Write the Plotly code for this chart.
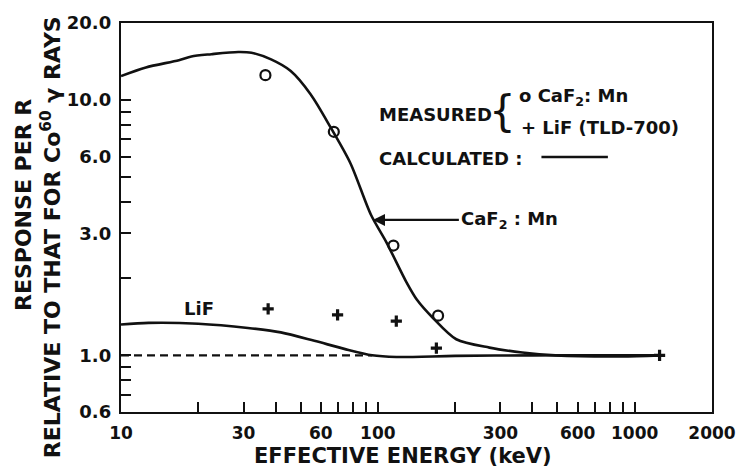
import plotly.graph_objects as go

# ---------------- data ----------------
caf2_calc_x = [10, 12.5, 16.8, 18.8, 22.5, 28.6, 32.2, 38.4, 45.8, 54.8, 65.5, 78.2, 94, 108, 129, 142, 164, 202, 272, 365, 491, 889, 1250]
caf2_calc_y = [12.4, 13.4, 14.3, 14.8, 15.1, 15.4, 15.3, 14.4, 12.97, 10.5, 7.8, 5.65, 3.55, 2.77, 1.94, 1.65, 1.40, 1.156, 1.072, 1.026, 1.0, 0.99, 1.0]

lif_calc_x = [10, 12.8, 20, 31.2, 41.9, 56.6, 74, 95, 118, 200, 400, 800, 1250]
lif_calc_y = [1.32, 1.34, 1.33, 1.28, 1.23, 1.14, 1.06, 1.0, 0.985, 0.995, 1.0, 1.0, 1.0]

caf2_meas_x = [36.5, 67.4, 115, 171.6]
caf2_meas_y = [12.5, 7.5, 2.69, 1.43]

lif_meas_x = [37.4, 69.7, 118, 169, 1250]
lif_meas_y = [1.52, 1.44, 1.36, 1.067, 1.0]

ref_x = [10, 95]
ref_y = [1.0, 1.0]

x_tickvals = [10, 30, 60, 100, 300, 600, 1000, 2000]
x_ticktext = ["10", "30", "60", "100", "300", "600", "1000", "2000"]
x_minorvals = [20, 40, 50, 70, 80, 90, 200, 400, 500, 700, 800, 900]
y_tickvals = [0.6, 1, 3, 6, 10, 20]
y_ticktext = ["0.6", "1.0", "3.0", "6.0", "10.0", "20.0"]
y_minorvals = [0.7, 0.8, 0.9, 2, 4, 5, 7, 8, 9]

# ---------------- layout geometry ----------------
W, H = 748, 470
L, R, T, B = 121, 717, 17, 412
PW, PH = R - L, B - T


def px(x):
    return (x - L) / PW


def py(y):
    return (B - y) / PH


FONT = "DejaVu Sans"
BLACK = "#111111"

fig = go.Figure()

fig.add_trace(go.Scatter(x=caf2_calc_x, y=caf2_calc_y, mode="lines",
                         line=dict(color=BLACK, width=2.6, shape="spline", smoothing=0.8),
                         showlegend=False, hoverinfo="skip"))
fig.add_trace(go.Scatter(x=lif_calc_x, y=lif_calc_y, mode="lines",
                         line=dict(color=BLACK, width=2.6, shape="spline", smoothing=0.8),
                         showlegend=False, hoverinfo="skip"))
fig.add_trace(go.Scatter(x=ref_x, y=ref_y, mode="lines",
                         line=dict(color=BLACK, width=2.4, dash="8px,5px"),
                         showlegend=False, hoverinfo="skip"))
fig.add_trace(go.Scatter(x=caf2_meas_x, y=caf2_meas_y, mode="markers",
                         marker=dict(symbol="circle-open", size=10, color=BLACK, line=dict(width=2.2)),
                         showlegend=False))
fig.add_trace(go.Scatter(x=lif_meas_x, y=lif_meas_y, mode="markers",
                         marker=dict(symbol="cross-thin-open", size=8, color=BLACK, line=dict(width=3.2, color=BLACK)),
                         showlegend=False))

axis_common = dict(type="log", showgrid=False, zeroline=False, showline=True, linewidth=2.4,
                   linecolor=BLACK, mirror=True, ticks="inside", ticklen=10, tickwidth=1.8,
                   tickcolor=BLACK, tickmode="array")

fig.update_xaxes(**axis_common, range=[1, 3.30103], tickvals=x_tickvals, ticktext=x_ticktext,
                 minor=dict(tickmode="array", tickvals=x_minorvals, ticks="inside", ticklen=10,
                            tickwidth=1.8, tickcolor=BLACK, showgrid=False),
                 tickfont=dict(family=FONT, size=17, color=BLACK, weight="bold"), ticklabelstandoff=4)
fig.update_yaxes(**axis_common, range=[-0.22185, 1.30103], tickvals=y_tickvals, ticktext=y_ticktext,
                 minor=dict(tickmode="array", tickvals=y_minorvals, ticks="inside", ticklen=10,
                            tickwidth=1.8, tickcolor=BLACK, showgrid=False),
                 tickfont=dict(family=FONT, size=18, color=BLACK, weight="bold"), ticklabelstandoff=4)

ann = []


def txt(text, x, y, size, xanchor="left", yanchor="middle", angle=0, weight="bold"):
    ann.append(dict(text=text, x=px(x), y=py(y), xref="paper", yref="paper", showarrow=False,
                    xanchor=xanchor, yanchor=yanchor, textangle=angle,
                    font=dict(family=FONT, size=size, color=BLACK, weight=weight)))


# axis titles
txt("EFFECTIVE ENERGY (keV)", 405, 457, 21, xanchor="center")
txt("RESPONSE PER R", 22, 202, 22, xanchor="center", angle=-90)
txt("RELATIVE TO THAT FOR Co<sup>60</sup> γ RAYS", 50, 235, 22, xanchor="center", angle=-90)

# key
txt("MEASURED", 379, 110, 18)
txt("{", 506, 107, 42, xanchor="center", weight="normal")
txt("o CaF<sub>2</sub>: Mn", 520, 92, 18)
txt("+ LiF (TLD-700)", 522, 123, 18)
txt("CALCULATED :", 379, 155, 18)

# curve labels
txt("LiF", 200, 307, 18, xanchor="center")

# arrow to CaF2 curve, with its label
ann.append(dict(text="CaF<sub>2</sub> : Mn", x=px(375), y=py(217), xref="paper", yref="paper",
                showarrow=True, ax=86, ay=0, xanchor="left", yanchor="middle",
                arrowhead=2, arrowsize=1.1, arrowwidth=2.2, arrowcolor=BLACK, standoff=0,
                font=dict(family=FONT, size=18, color=BLACK, weight="bold")))

fig.update_layout(
    width=W, height=H,
    margin=dict(l=L, r=W - R, t=T, b=H - B),
    paper_bgcolor="white", plot_bgcolor="white",
    annotations=ann,
    shapes=[dict(type="line", xref="paper", yref="paper", x0=px(545), x1=px(612),
                 y0=py(153), y1=py(153), line=dict(color=BLACK, width=2.4))],
)

fig.write_html("out.html")
